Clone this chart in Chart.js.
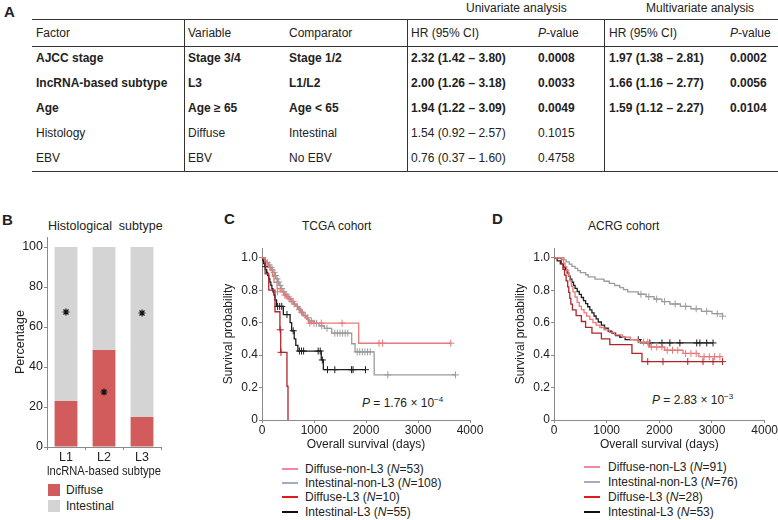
<!DOCTYPE html>
<html>
<head>
<meta charset="utf-8">
<script src="https://cdn.jsdelivr.net/npm/chart.js@4.4.1/dist/chart.umd.min.js"></script>
<style>
body { margin: 0; width: 778px; height: 520px; position: relative; background: #fff; overflow: hidden;
       font-family: 'Liberation Sans', Arial, Helvetica, sans-serif; color: #222; }
.t { position: absolute; font-size: 12px; line-height: 14px; white-space: nowrap; transform: translateY(-50%); }
.b { font-weight: bold; }
.hl { position: absolute; height: 0; border-top: 1.5px solid #333; }
.vl { position: absolute; width: 0; border-left: 1.5px solid #333; }
.panel { position: absolute; font-weight: bold; font-size: 15px; line-height: 16px; }
canvas { position: absolute; }
.sw { position: absolute; height: 0; border-top: 2px solid; width: 16px; }
.box { position: absolute; width: 12px; height: 12px; }
sup { font-size: 8px; vertical-align: 5px; line-height: 0; }
</style>
</head>
<body>

<div class="panel" style="left:4px;top:4px">A</div>
<div class="panel" style="left:2px;top:212px">B</div>
<div class="panel" style="left:224px;top:211px">C</div>
<div class="panel" style="left:492px;top:211px">D</div>

<div id="table"></div>

<div class="t" style="left:48px;top:226px;font-size:12.5px">Histological&nbsp; subtype</div>
<div class="t" style="left:302px;top:226px">TCGA cohort</div>
<div class="t" style="left:588px;top:226px">ACRG cohort</div>

<div class="t" style="left:362px;top:403px"><i>P</i> = 1.76 × 10<sup>−4</sup></div>
<div class="t" style="left:652px;top:400px"><i>P</i> = 2.83 × 10<sup>−3</sup></div>

<div id="legB"></div>
<div id="legC"></div>
<div id="legD"></div>

<canvas id="chartB" style="left:0;top:215px" width="175" height="270"></canvas>
<canvas id="chartC" style="left:200px;top:235px" width="290" height="225"></canvas>
<canvas id="chartD" style="left:492px;top:235px" width="286" height="225"></canvas>

<script>
// ---------- Panel A: Cox regression table ----------
const factors     = ['AJCC stage', 'lncRNA-based subtype', 'Age', 'Histology', 'EBV'];
const variables   = ['Stage 3/4', 'L3', 'Age ≥ 65', 'Diffuse', 'EBV'];
const comparators = ['Stage 1/2', 'L1/L2', 'Age < 65', 'Intestinal', 'No EBV'];
const uniHR       = ['2.32 (1.42 – 3.80)', '2.00 (1.26 – 3.18)', '1.94 (1.22 – 3.09)', '1.54 (0.92 – 2.57)', '0.76 (0.37 – 1.60)'];
const uniP        = ['0.0008', '0.0033', '0.0049', '0.1015', '0.4758'];
const multiHR     = ['1.97 (1.38 – 2.81)', '1.66 (1.16 – 2.77)', '1.59 (1.12 – 2.27)', '', ''];
const multiP      = ['0.0002', '0.0056', '0.0104', '', ''];
const boldRows    = [true, true, true, false, false];

// ---------- Panel B: histological subtype by lncRNA subtype ----------
const subtypes      = ['L1', 'L2', 'L3'];
const diffusePct    = [23, 48.5, 15];
const intestinalPct = [77, 51.5, 85];
const starY         = [67.5, 27.5, 67];
const pctTicks      = [0, 20, 40, 60, 80, 100];

// ---------- Panels C/D: Kaplan-Meier curves (time in days, survival) ----------
const dayTicks  = [0, 1000, 2000, 3000, 4000];
const survTicks = [0, 0.2, 0.4, 0.6, 0.8, 1.0];

// TCGA
const tcgaDnT = [0, 60, 100, 130, 160, 200, 230, 290, 350, 420, 480, 560, 620, 680, 740, 800, 860, 900, 1860, 3630];
const tcgaDnS = [1, 0.981, 0.962, 0.943, 0.924, 0.886, 0.848, 0.81, 0.79, 0.77, 0.75, 0.73, 0.71, 0.69, 0.665, 0.64, 0.62, 0.597, 0.473, 0.473];
const tcgaDnCT = [300, 440, 520, 600, 760, 920, 1000, 1140, 1540, 2250, 2320, 3630];
const tcgaDnCS = [0.79, 0.77, 0.75, 0.73, 0.665, 0.597, 0.597, 0.597, 0.597, 0.473, 0.473, 0.473];

const tcgaInT = [0, 30, 60, 90, 120, 150, 180, 210, 240, 270, 300, 330, 360, 400, 440, 480, 520, 560, 600, 650, 700, 750, 800, 850, 900, 1000, 1100, 1200, 1340, 1725, 1790, 2157, 3720];
const tcgaInS = [1, 0.99, 0.98, 0.97, 0.955, 0.94, 0.925, 0.91, 0.89, 0.87, 0.85, 0.83, 0.81, 0.79, 0.775, 0.76, 0.745, 0.73, 0.715, 0.70, 0.68, 0.66, 0.645, 0.63, 0.61, 0.595, 0.58, 0.565, 0.535, 0.47, 0.42, 0.278, 0.278];
const tcgaInCT = [100, 140, 170, 200, 230, 260, 290, 320, 350, 380, 420, 460, 500, 540, 580, 620, 680, 720, 780, 830, 880, 950, 1050, 1150, 1250, 1400, 1450, 1500, 1550, 1600, 1650, 1830, 1880, 1930, 1980, 2030, 2080, 2420, 3720];
const tcgaInCS = [0.97, 0.955, 0.94, 0.925, 0.91, 0.89, 0.87, 0.85, 0.83, 0.81, 0.79, 0.775, 0.76, 0.745, 0.73, 0.715, 0.70, 0.68, 0.66, 0.645, 0.63, 0.61, 0.595, 0.58, 0.565, 0.535, 0.535, 0.535, 0.535, 0.535, 0.535, 0.42, 0.42, 0.42, 0.42, 0.42, 0.42, 0.278, 0.278];

const tcgaD3T = [0, 60, 130, 250, 345, 360, 480, 500];
const tcgaD3S = [1, 0.9, 0.8, 0.667, 0.556, 0.417, 0.208, 0];
const tcgaD3CT = [350, 365];
const tcgaD3CS = [0.556, 0.417];

const tcgaI3T = [0, 15, 30, 50, 70, 90, 110, 130, 150, 170, 190, 210, 230, 250, 280, 410, 540, 570, 620, 650, 690, 1140, 1180, 1990];
const tcgaI3S = [1, 0.982, 0.964, 0.945, 0.927, 0.909, 0.89, 0.87, 0.85, 0.83, 0.81, 0.79, 0.77, 0.74, 0.70, 0.65, 0.60, 0.55, 0.50, 0.46, 0.425, 0.37, 0.31, 0.31];
const tcgaI3CT = [60, 300, 340, 380, 480, 600, 720, 760, 800, 1080, 1120, 1160, 1260, 1400, 1720, 1750, 1990];
const tcgaI3CS = [0.945, 0.70, 0.70, 0.70, 0.65, 0.55, 0.425, 0.425, 0.425, 0.425, 0.425, 0.37, 0.31, 0.31, 0.31, 0.31, 0.31];

// ACRG
const acrgDnT = [0, 150, 180, 210, 240, 270, 300, 330, 360, 400, 440, 480, 520, 570, 620, 680, 740, 800, 870, 950, 1050, 1150, 1300, 1450, 1600, 1800, 2100, 2450, 2750, 3200];
const acrgDnS = [1, 0.989, 0.967, 0.945, 0.923, 0.89, 0.857, 0.824, 0.79, 0.758, 0.725, 0.70, 0.68, 0.66, 0.64, 0.62, 0.60, 0.585, 0.57, 0.555, 0.54, 0.525, 0.51, 0.495, 0.48, 0.45, 0.43, 0.41, 0.39, 0.39];
const acrgDnCT = [1700, 1780, 1850, 1950, 2050, 2150, 2250, 2350, 2500, 2600, 2700, 2850, 2950, 3050, 3150];
const acrgDnCS = [0.48, 0.48, 0.45, 0.45, 0.45, 0.43, 0.43, 0.43, 0.41, 0.41, 0.41, 0.39, 0.39, 0.39, 0.39];

const acrgInT = [0, 190, 230, 290, 340, 400, 450, 500, 600, 650, 780, 950, 1050, 1150, 1250, 1320, 1400, 1600, 1750, 1900, 2050, 2200, 2400, 2600, 2800, 3000, 3200];
const acrgInS = [1, 0.987, 0.974, 0.961, 0.947, 0.934, 0.921, 0.908, 0.895, 0.882, 0.868, 0.855, 0.842, 0.829, 0.816, 0.803, 0.789, 0.775, 0.76, 0.745, 0.73, 0.715, 0.70, 0.685, 0.67, 0.655, 0.64];
const acrgInCT = [1650, 1800, 1950, 2100, 2300, 2500, 2700, 2900, 3100, 3200];
const acrgInCS = [0.775, 0.76, 0.745, 0.73, 0.715, 0.70, 0.685, 0.67, 0.655, 0.64];

const acrgD3T = [0, 140, 170, 200, 230, 260, 280, 300, 320, 350, 420, 520, 600, 720, 900, 1060, 1480, 1670, 3200];
const acrgD3S = [1, 0.964, 0.929, 0.893, 0.857, 0.821, 0.786, 0.75, 0.714, 0.679, 0.643, 0.607, 0.571, 0.536, 0.5, 0.464, 0.41, 0.36, 0.36];
const acrgD3CT = [1780, 2070, 2540, 2830, 3020, 3200];
const acrgD3CS = [0.36, 0.36, 0.36, 0.36, 0.36, 0.36];

const acrgI3T = [0, 60, 120, 180, 220, 250, 280, 310, 340, 370, 400, 440, 480, 520, 560, 600, 640, 680, 720, 760, 800, 840, 900, 960, 1030, 1100, 1170, 1250, 1350, 1640, 3020];
const acrgI3S = [1, 0.981, 0.962, 0.943, 0.925, 0.906, 0.887, 0.868, 0.849, 0.83, 0.811, 0.792, 0.774, 0.755, 0.736, 0.717, 0.698, 0.679, 0.66, 0.641, 0.623, 0.604, 0.585, 0.566, 0.547, 0.535, 0.52, 0.51, 0.495, 0.475, 0.475];
const acrgI3CT = [1600, 1820, 2050, 2200, 2390, 2710, 2770, 2900, 3020];
const acrgI3CS = [0.495, 0.475, 0.475, 0.475, 0.475, 0.475, 0.475, 0.475, 0.475];

const groupNames = ['Diffuse-non-L3', 'Intestinal-non-L3', 'Diffuse-L3', 'Intestinal-L3'];
const tcgaN = [53, 108, 10, 55];
const acrgN = [91, 76, 28, 53];

// colours
const curveColors  = ['#E8797B', '#9B9B9B', '#B0242A', '#1E1E1E'];
const legendColors = ['#F2879E', '#A3ADBE', '#E31A1C', '#111111'];
const axisColor = '#8A8A8A';

// --- Table ---
function buildTable() {
    const el = document.getElementById('table');
    const colX = [36, 188, 289, 411, 538, 609, 730];
    const rowY = [58, 83, 108, 133, 158];
    let html = '';
    html += `<div class="t" style="left:466px;top:8px">Univariate analysis</div>`;
    html += `<div class="t" style="left:646px;top:8px">Multivariate analysis</div>`;
    const heads = ['Factor', 'Variable', 'Comparator', 'HR (95% CI)', '<i>P</i>-value', 'HR (95% CI)', '<i>P</i>-value'];
    heads.forEach((h, i) => { html += `<div class="t" style="left:${colX[i]}px;top:33px">${h}</div>`; });
    factors.forEach((f, r) => {
        const cells = [f, variables[r], comparators[r], uniHR[r], uniP[r], multiHR[r], multiP[r]];
        cells.forEach((c, i) => {
            html += `<div class="t${boldRows[r] ? ' b' : ''}" style="left:${colX[i]}px;top:${rowY[r]}px">${c}</div>`;
        });
    });
    html += `<div class="hl" style="left:32px;width:746px;top:19px"></div>`;
    html += `<div class="hl" style="left:32px;width:746px;top:46px"></div>`;
    html += `<div class="hl" style="left:32px;width:746px;top:171px"></div>`;
    [184, 407, 604].forEach(x => { html += `<div class="vl" style="left:${x}px;top:19px;height:153px"></div>`; });
    el.innerHTML = html;
}

function buildLegends() {
    document.getElementById('legB').innerHTML =
        `<div class="box" style="left:48px;top:484px;background:#D25B5B"></div><div class="t" style="left:66px;top:490px">Diffuse</div>` +
        `<div class="box" style="left:48px;top:500px;background:#D4D4D4"></div><div class="t" style="left:66px;top:506px">Intestinal</div>`;
    const leg = (id, lineX, textX, ys, ns) => {
        document.getElementById(id).innerHTML = groupNames.map((g, i) =>
            `<div class="sw" style="left:${lineX}px;top:${ys[i] - 1}px;border-color:${legendColors[i]}"></div>` +
            `<div class="t" style="left:${textX}px;top:${ys[i]}px">${g} (<i>N</i>=${ns[i]})</div>`).join('');
    };
    leg('legC', 282, 305, [469, 483, 497, 512], tcgaN);
    leg('legD', 584, 608, [467, 482, 497, 512], acrgN);
}

const pts = (xs, ys) => xs.map((x, i) => ({ x: x, y: ys[i] }));

function kmChart(id, curves, censors, yWidth, rightPad) {
    const datasets = [];
    // topmost first
    [0, 2, 3, 1].forEach(i => {
        datasets.push({ data: pts(censors[i][0], censors[i][1]), showLine: false, pointStyle: 'cross',
            pointRadius: 3.5, pointBorderWidth: 1, borderColor: curveColors[i], backgroundColor: curveColors[i] });
        datasets.push({ data: pts(curves[i][0], curves[i][1]), stepped: true, borderColor: curveColors[i],
            borderWidth: 1.3, pointRadius: 0, fill: false });
    });
    new Chart(document.getElementById(id), {
        type: 'line',
        data: { datasets },
        options: {
            responsive: false, animation: false,
            layout: { padding: { left: 0, top: 13, right: rightPad, bottom: 0 } },
            plugins: { legend: { display: false }, tooltip: { enabled: false } },
            scales: {
                x: {
                    type: 'linear', min: 0, max: 4000,
                    afterBuildTicks: s => { s.ticks = dayTicks.map(v => ({ value: v })); },
                    afterFit: s => { s.height = 40; },
                    border: { color: axisColor, width: 1 },
                    grid: { drawOnChartArea: false, tickLength: 3, color: axisColor },
                    ticks: { color: '#222', font: { size: 12 }, padding: 0, maxRotation: 0, callback: v => String(v) },
                    title: { display: true, text: 'Overall survival (days)', color: '#222', font: { size: 12 }, padding: { top: 0, bottom: 8 } }
                },
                y: {
                    min: 0, max: 1.06,
                    afterBuildTicks: s => { s.ticks = survTicks.map(v => ({ value: v })); },
                    afterFit: s => { s.width = yWidth; },
                    border: { color: axisColor, width: 1 },
                    grid: { drawOnChartArea: false, tickLength: 3, color: axisColor },
                    ticks: { color: '#222', font: { size: 12 }, padding: 1, callback: v => v === 0 ? '0' : v.toFixed(1) },
                    title: { display: true, text: 'Survival probability', color: '#222', font: { size: 12 }, padding: { top: 21, bottom: 0 } }
                }
            }
        }
    });
}

function barChart() {
    new Chart(document.getElementById('chartB'), {
        type: 'bar',
        data: {
            labels: subtypes,
            datasets: [
                { type: 'line', data: subtypes.map((c, i) => ({ x: c, y: starY[i] })), stack: 'stars', showLine: false,
                  pointStyle: 'star', pointRadius: 3.5, pointBorderWidth: 1.2, borderColor: '#111', backgroundColor: '#111' },
                { label: 'Diffuse', data: diffusePct, backgroundColor: '#D25B5B', stack: 's', barPercentage: 0.6, categoryPercentage: 1 },
                { label: 'Intestinal', data: intestinalPct, backgroundColor: '#D4D4D4', stack: 's', barPercentage: 0.6, categoryPercentage: 1 }
            ]
        },
        options: {
            responsive: false, animation: false,
            layout: { padding: { left: 0, top: 22, right: 14, bottom: 0 } },
            plugins: { legend: { display: false }, tooltip: { enabled: false } },
            scales: {
                x: {
                    stacked: true,
                    afterFit: s => { s.height = 38; },
                    border: { color: axisColor, width: 1 },
                    grid: { drawOnChartArea: false, tickLength: 3, color: axisColor },
                    ticks: { color: '#222', font: { size: 12.5 }, padding: 0 },
                    title: { display: true, text: 'lncRNA-based subtype', color: '#222', font: { size: 12.5 }, padding: { top: 0, bottom: 6 } }
                },
                y: {
                    stacked: true, min: 0, max: 105,
                    afterBuildTicks: s => { s.ticks = pctTicks.map(v => ({ value: v })); },
                    afterFit: s => { s.width = 47; },
                    border: { color: axisColor, width: 1 },
                    grid: { drawOnChartArea: false, tickLength: 3, color: axisColor },
                    ticks: { color: '#222', font: { size: 12.5 }, padding: 1 },
                    title: { display: true, text: 'Percentage', color: '#222', font: { size: 12.5 }, padding: { top: 13, bottom: 0 } }
                }
            }
        }
    });
}

buildTable();
buildLegends();
barChart();
kmChart('chartC',
    [[tcgaDnT, tcgaDnS], [tcgaInT, tcgaInS], [tcgaD3T, tcgaD3S], [tcgaI3T, tcgaI3S]],
    [[tcgaDnCT, tcgaDnCS], [tcgaInCT, tcgaInCS], [tcgaD3CT, tcgaD3CS], [tcgaI3CT, tcgaI3CS]], 62, 20);
kmChart('chartD',
    [[acrgDnT, acrgDnS], [acrgInT, acrgInS], [acrgD3T, acrgD3S], [acrgI3T, acrgI3S]],
    [[acrgDnCT, acrgDnCS], [acrgInCT, acrgInCS], [acrgD3CT, acrgD3CS], [acrgI3CT, acrgI3CS]], 62, 13);
</script>
</body>
</html>
